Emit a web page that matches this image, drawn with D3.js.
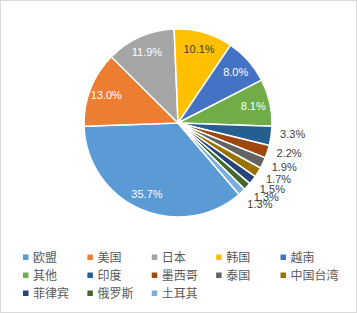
<!DOCTYPE html>
<html>
<head>
<meta charset="utf-8">
<script src="https://cdn.jsdelivr.net/npm/d3@7"></script>
<style>
  body{margin:0;background:#fff;}
  svg{display:block;}
</style>
</head>
<body>
<svg id="chart" width="357" height="313"></svg>
<script>
// data
var categories = ["欧盟","美国","日本","韩国","越南","其他","印度","墨西哥","泰国","中国台湾","菲律宾","俄罗斯","土耳其"];
var shares = [35.7,13.0,11.9,10.1,8.0,8.1,3.3,2.2,1.9,1.7,1.5,1.3,1.3];
var colors = ["#5B9BD5","#ED7D31","#A5A5A5","#FFC000","#4472C4","#70AD47","#255E91","#9E480E","#636363","#997300","#264478","#43682B","#7CAFDD"];

var width = 357, height = 313;
var cx = 178, cy = 123, radius = 94;
var firstAngle = 139.5 * Math.PI / 180;

var svg = d3.select("#chart");

// chart border
svg.append("rect")
    .attr("x",0.5).attr("y",0.5)
    .attr("width",width-1).attr("height",height-1)
    .attr("fill","#fff").attr("stroke","#d9d9d9");

var data = categories.map(function(c,i){ return {name:c, value:shares[i], color:colors[i]}; });

var pie = d3.pie()
    .sort(null)
    .value(function(d){ return d.value; })
    .startAngle(firstAngle)
    .endAngle(firstAngle + 2*Math.PI);

var path = d3.arc().outerRadius(radius).innerRadius(0);
var inLabel = d3.arc().outerRadius(radius*0.82).innerRadius(radius*0.82);
var outR = radius*1.225;

var g = svg.append("g").attr("transform","translate("+cx+","+cy+")");
var arcs = pie(data);

g.append("g").attr("class","slices")
    .selectAll("path")
    .data(arcs).enter()
    .append("path")
    .attr("d", path)
    .attr("fill", function(d){ return d.data.color; })
    .attr("stroke","#fff")
    .attr("stroke-width",1.5)
    .attr("stroke-linejoin","round");

// labels: big slices inside, small slices outside
g.append("g").attr("class","labels")
    .selectAll("text")
    .data(arcs).enter()
    .append("text")
    .attr("transform", function(d){
        if(d.data.value > 5) return "translate(" + inLabel.centroid(d) + ")";
        var a = (d.startAngle + d.endAngle)/2 - 2.5*Math.PI/180;
        return "translate(" + (outR*Math.sin(a)) + "," + (-outR*Math.cos(a)) + ")";
    })
    .attr("dy","0.36em")
    .attr("text-anchor","middle")
    .attr("font-family","Liberation Sans, Arial, sans-serif")
    .attr("font-size","11px")
    .attr("fill", function(d){
        if(d.data.value <= 5 || d.data.name == "韩国") return "#404040";
        return "#fff";
    })
    .text(function(d){ return d.data.value.toFixed(1) + "%"; });

// legend
var legX = d3.scaleLinear().domain([0,4]).range([23,280.5]);
var legY = d3.scaleLinear().domain([0,2]).range([257.5,293.5]);

var leg = svg.append("g").attr("class","legend")
    .selectAll("g")
    .data(data).enter()
    .append("g")
    .attr("transform", function(d,i){ return "translate(" + legX(i%5) + "," + legY(Math.floor(i/5)) + ")"; });

leg.append("rect")
    .attr("x",0).attr("y",-3)
    .attr("width",5.5).attr("height",5.5)
    .attr("fill", function(d){ return d.color; });

leg.append("text")
    .attr("x",10)
    .attr("dy","0.36em")
    .attr("font-family","Noto Sans CJK SC, sans-serif")
    .attr("font-size","12px")
    .attr("fill","#595959")
    .text(function(d){ return d.name; });
</script>
</body>
</html>
